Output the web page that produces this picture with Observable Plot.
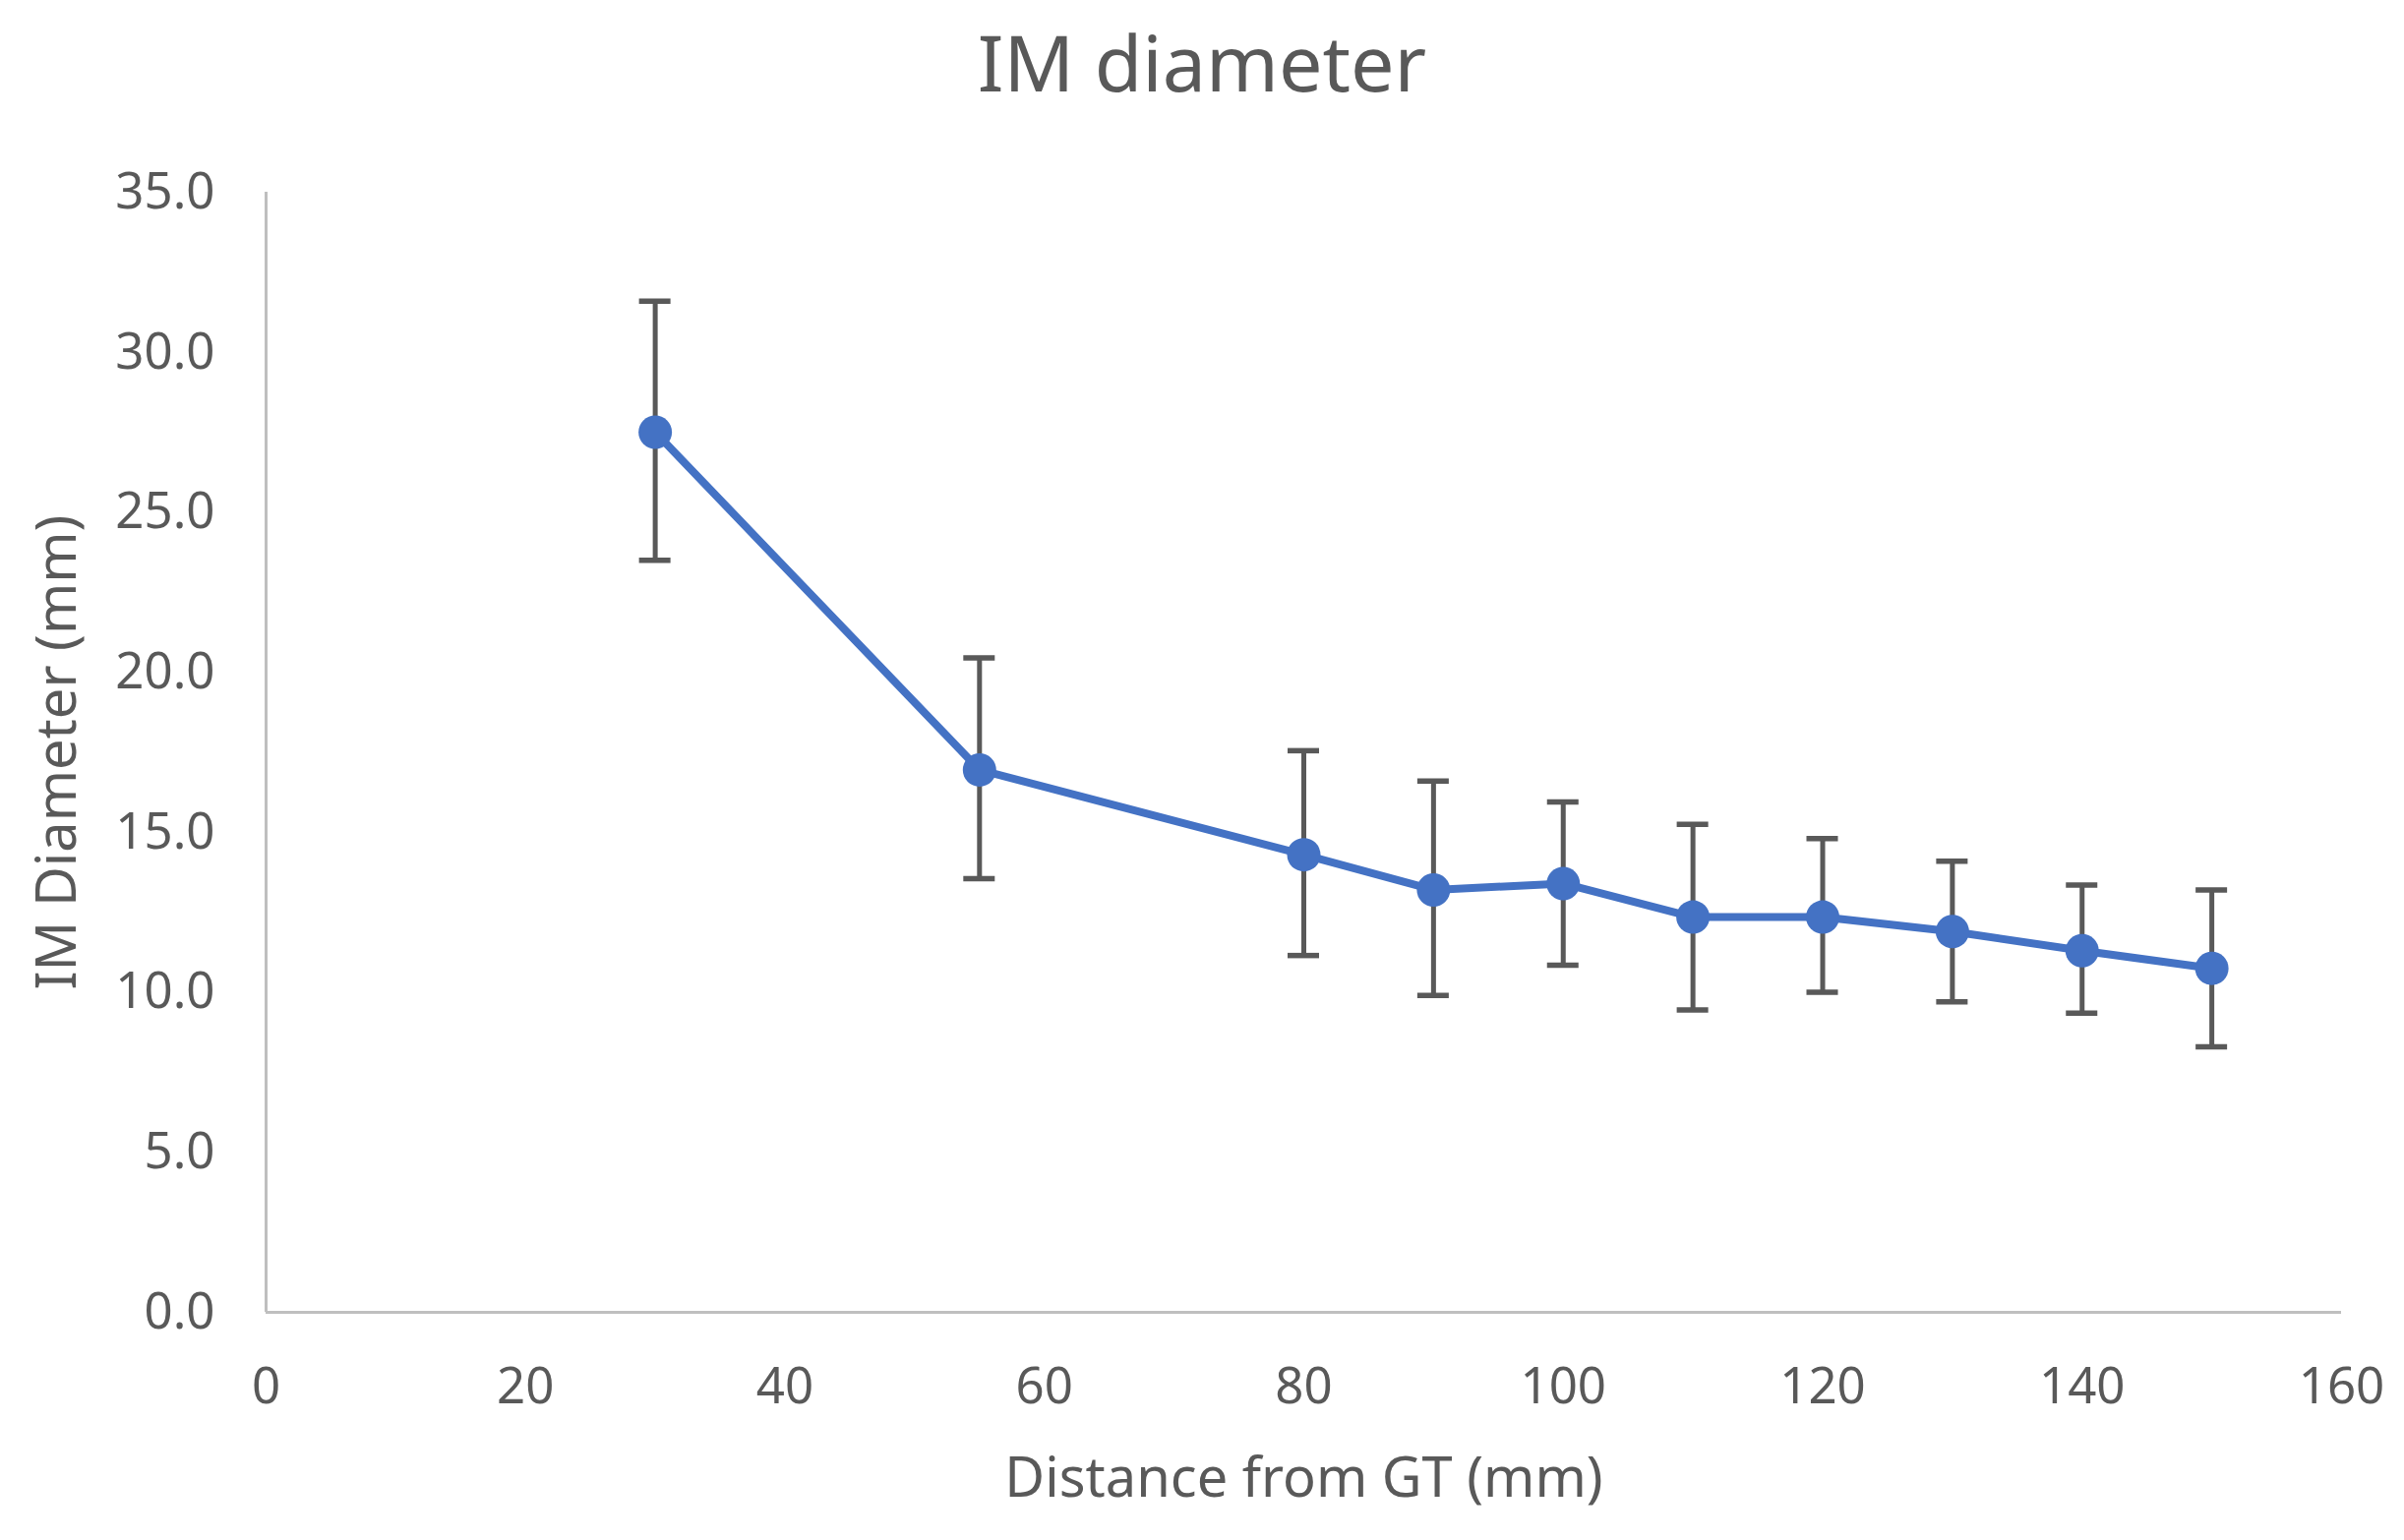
<!DOCTYPE html>
<html>
<head>
<meta charset="utf-8">
<script src="https://cdn.jsdelivr.net/npm/d3@7"></script>
<script src="https://cdn.jsdelivr.net/npm/@observablehq/plot@0.6"></script>
<style>
  html, body { margin: 0; padding: 0; background: #fff; }
  #title { height: 130px; line-height: 126px; text-align: center; font-family: "Noto Sans", "Open Sans", sans-serif; font-size: 79px; color: #595959; width: 2444px; }
</style>
</head>
<body>
<div id="title">IM diameter</div>
<div id="chart"></div>
<script>
const distances = [30, 55, 80, 90, 100, 110, 120, 130, 140, 150];
const means     = [27.5, 16.95, 14.3, 13.2, 13.4, 12.35, 12.35, 11.9, 11.3, 10.75];
const upper     = [31.6, 20.45, 17.55, 16.6, 15.95, 15.25, 14.8, 14.1, 13.35, 13.2];
const lower     = [23.5, 13.55, 11.15, 9.9, 10.85, 9.45, 10.0, 9.7, 9.35, 8.3];
const xTicks = [0, 20, 40, 60, 80, 100, 120, 140, 160];
const yTicks = [0, 5, 10, 15, 20, 25, 30, 35];
const xLabel = "Distance from GT (mm)";
const yLabel = "IM Diameter (mm)";

const data = distances.map((x, i) => ({x, y: means[i], hi: upper[i], lo: lower[i]}));

const blue = "#4472C4";
const grey = "#595959";
const axisGrey = "#BFBFBF";

const chart = Plot.plot({
  width: 2444,
  height: 1436,
  marginTop: 65,
  marginBottom: 232,
  marginLeft: 270,
  marginRight: 64,
  style: {fontFamily: "'Noto Sans', 'Open Sans', sans-serif", fontSize: "51px", color: grey, background: "#fff"},
  x: {domain: [0, 160], ticks: xTicks, tickSize: 0, tickPadding: 56, tickFormat: d3.format("d"), label: null},
  y: {domain: [0, 35], ticks: yTicks, tickSize: 0, tickPadding: 52, tickFormat: d3.format(".1f"), label: null},
  marks: [
    Plot.ruleX([0], {stroke: axisGrey, strokeWidth: 3}),
    Plot.ruleY([0], {stroke: axisGrey, strokeWidth: 3}),
    Plot.ruleX(data, {x: "x", y1: "lo", y2: "hi", stroke: grey, strokeWidth: 5}),
    Plot.ruleY(data, {y: "hi", x1: "x", x2: "x", insetLeft: -16, insetRight: -16, stroke: grey, strokeWidth: 5.5}),
    Plot.ruleY(data, {y: "lo", x1: "x", x2: "x", insetLeft: -16, insetRight: -16, stroke: grey, strokeWidth: 5.5}),
    Plot.line(data, {x: "x", y: "y", stroke: blue, strokeWidth: 8}),
    Plot.dot(data, {x: "x", y: "y", r: 17, fill: blue, stroke: "none"}),
    Plot.text([yLabel], {frameAnchor: "left", dx: -211, rotate: -90, textAnchor: "middle", fontSize: 56, fill: grey, lineAnchor: "middle"}),
    Plot.text([xLabel], {frameAnchor: "bottom", dy: 170, textAnchor: "middle", fontSize: 56, fill: grey, lineAnchor: "middle"})
  ]
});
document.getElementById("chart").appendChild(chart);
</script>
</body>
</html>
